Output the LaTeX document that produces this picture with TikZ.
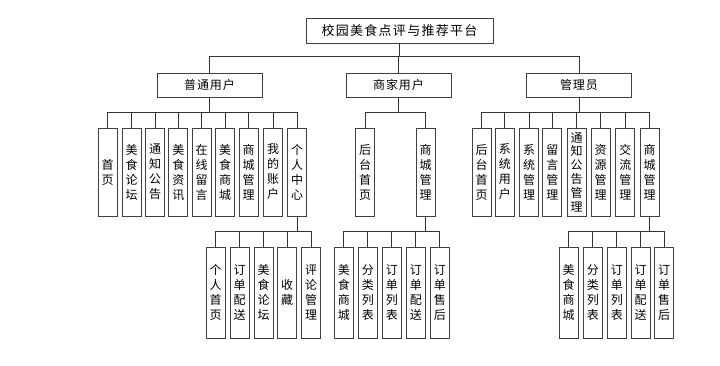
\documentclass[tikz,border=0pt]{standalone}
\usepackage{fontspec}
\newfontfamily\cjk{Noto Sans CJK SC}
\newfontfamily\cjksp[LetterSpace=10]{Noto Sans CJK SC}
\newfontfamily\cjkspb[LetterSpace=8]{Noto Sans CJK SC}
\tikzset{
  box/.style={draw=black!75, line width=0.9pt, inner sep=0pt, fill=white},
  vbox/.style={box, minimum width=19pt, minimum height=88pt, align=center, font=\cjk\fontsize{12}{15}\selectfont},
  vboxl/.style={vbox, minimum height=91pt},
  hbox/.style={box, minimum width=105pt, minimum height=24pt, font=\cjkspb\fontsize{12}{15}\selectfont},
  link/.style={draw=black!80, line width=0.8pt},
}
\begin{document}
\begin{tikzpicture}[x=1pt,y=-1pt]
\useasboundingbox (0,0) rectangle (720,365);
% root
\node[box, minimum width=187pt, minimum height=25pt, font=\cjksp\fontsize{13}{15}\selectfont] (root) at (399.5,30.5) {校园美食点评与推荐平台};
% level 1
\node[hbox] (u) at (209.5,85) {普通用户};
\node[hbox] (m) at (398.5,85) {商家用户};
\node[hbox] (g) at (579,85) {管理员};
% level 2 ordinary user
\node[vbox] (u1) at (107.5,172) {首\\页};
\node[vbox] (u2) at (131.7,172) {美\\食\\论\\坛};
\node[vbox] (u3) at (155,172) {通\\知\\公\\告};
\node[vbox] (u4) at (178.3,172) {美\\食\\资\\讯};
\node[vbox] (u5) at (201.7,172) {在\\线\\留\\言};
\node[vbox] (u6) at (225,172) {美\\食\\商\\城};
\node[vbox] (u7) at (248.7,172) {商\\城\\管\\理};
\node[vbox] (u8) at (273,172) {我\\的\\账\\户};
\node[vbox] (u9) at (297,172) {个\\人\\中\\心};
% level 3 personal center
\node[vboxl] (p1) at (215.5,292.5) {个\\人\\首\\页};
\node[vboxl] (p2) at (239.7,292.5) {订\\单\\配\\送};
\node[vboxl] (p3) at (263.7,292.5) {美\\食\\论\\坛};
\node[vboxl] (p4) at (287,292.5) {收\\藏};
\node[vboxl] (p5) at (311,292.5) {评\\论\\管\\理};
% level 2 merchant
\node[vbox] (m1) at (365,172) {后\\台\\首\\页};
\node[vbox] (m2) at (425.5,172) {商\\城\\管\\理};
% level 3 merchant mall
\node[vboxl] (mm1) at (343.8,292.5) {美\\食\\商\\城};
\node[vboxl] (mm2) at (367.8,292.5) {分\\类\\列\\表};
\node[vboxl] (mm3) at (391.8,292.5) {订\\单\\列\\表};
\node[vboxl] (mm4) at (415.8,292.5) {订\\单\\配\\送};
\node[vboxl] (mm5) at (439.8,292.5) {订\\单\\售\\后};
% level 2 admin
\node[vbox] (g1) at (481.5,172) {后\\台\\首\\页};
\node[vbox] (g2) at (504.8,172) {系\\统\\用\\户};
\node[vbox] (g3) at (529,172) {系\\统\\管\\理};
\node[vbox] (g4) at (552.3,172) {留\\言\\管\\理};
\node[vbox, font=\cjk\fontsize{12}{13.8}\selectfont] (g5) at (576.7,172) {通\\知\\公\\告\\管\\理};
\node[vbox] (g6) at (600.5,172) {资\\源\\管\\理};
\node[vbox] (g7) at (625.3,172) {交\\流\\管\\理};
\node[vbox] (g8) at (649.7,172) {商\\城\\管\\理};
% level 3 admin mall
\node[vboxl] (gm1) at (568.7,292.5) {美\\食\\商\\城};
\node[vboxl] (gm2) at (592.8,292.5) {分\\类\\列\\表};
\node[vboxl] (gm3) at (616.8,292.5) {订\\单\\列\\表};
\node[vboxl] (gm4) at (640.5,292.5) {订\\单\\配\\送};
\node[vboxl] (gm5) at (664.2,292.5) {订\\单\\售\\后};
% connectors
\foreach \c in {u,m,g} \draw[link] (\c.north) -- ++(0,-16) -| (root.south);
\foreach \c in {u1,u2,u3,u4,u5,u6,u7,u8,u9} \draw[link] (\c.north) -- ++(0,-15) -| (u.south);
\foreach \c in {p1,p2,p3,p4,p5} \draw[link] (\c.north) -- ++(0,-15) -| (u9.south);
\foreach \c in {m1,m2} \draw[link] (\c.north) -- ++(0,-15) -| (m.south);
\foreach \c in {mm1,mm2,mm3,mm4,mm5} \draw[link] (\c.north) -- ++(0,-15) -| (m2.south);
\foreach \c in {g1,g2,g3,g4,g5,g6,g7,g8} \draw[link] (\c.north) -- ++(0,-15) -| (g.south);
\foreach \c in {gm1,gm2,gm3,gm4,gm5} \draw[link] (\c.north) -- ++(0,-15) -| (g8.south);
\end{tikzpicture}
\end{document}
